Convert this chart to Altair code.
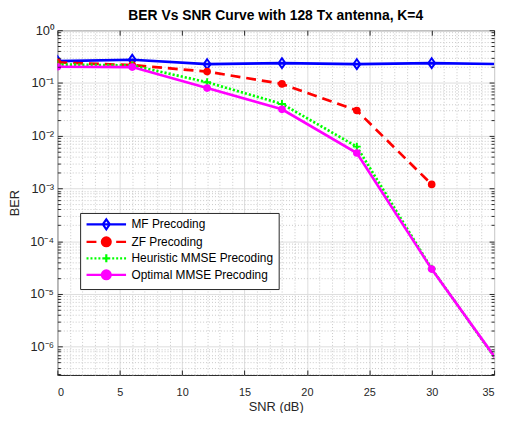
import altair as alt
import pandas as pd

# ---------------- data ----------------
snr = [0, 6, 12, 18, 24, 30, 36]
mf_ber = [0.26, 0.275, 0.227, 0.237, 0.227, 0.237, 0.227]
zf_snr = [0, 6, 12, 18, 24, 30]
zf_ber = [0.245, 0.218, 0.164, 0.096, 0.030, 1.19e-3]
heur_ber = [0.224, 0.215, 0.103, 0.040, 6.2e-3, 3.0e-5, 3.0e-7]
opt_ber = [0.203, 0.200, 0.080, 0.0316, 4.7e-3, 2.95e-5, 3.1e-7]

names = ["MF Precoding", "ZF Precoding", "Heuristic MMSE Precoding", "Optimal MMSE Precoding"]
colors = ["#0000ff", "#ff0000", "#00ff00", "#ff00ff"]

x_ticks = [0, 5, 10, 15, 20, 25, 30, 35]
x_minor = [v for v in range(0, 36) if v % 5 != 0]
y_ticks = [1, 1e-1, 1e-2, 1e-3, 1e-4, 1e-5, 1e-6]
y_minor = [m * 10.0 ** e for e in range(-7, 0) for m in range(2, 10) if m * 10.0 ** e >= 2.9e-7]

rows = []
for s, v in zip(snr, mf_ber):
    rows.append({"snr": s, "ber": v, "series": names[0]})
for s, v in zip(zf_snr, zf_ber):
    rows.append({"snr": s, "ber": v, "series": names[1]})
for s, v in zip(snr, heur_ber):
    rows.append({"snr": s, "ber": v, "series": names[2]})
for s, v in zip(snr, opt_ber):
    rows.append({"snr": s, "ber": v, "series": names[3]})
df = pd.DataFrame(rows)

FONT = "Liberation Sans"
INK = "#262626"
xs = alt.Scale(domain=[0, 35], nice=False, zero=False)
ys = alt.Scale(type="log", domain=[2.9e-7, 1], nice=False)

base = alt.Chart(df)


def axis_layer(xaxis, yaxis):
    return base.transform_filter("false").mark_point(opacity=0).encode(
        x=alt.X("snr:Q", scale=xs, axis=xaxis),
        y=alt.Y("ber:Q", scale=ys, axis=yaxis),
    )


common = dict(labelFont=FONT, titleFont=FONT, labelColor=INK, titleColor=INK,
              tickColor=INK, domain=False)

sup = "['\u2070','\u207b\u00b9','\u207b\u00b2','\u207b\u00b3','\u207b\u2074','\u207b\u2075','\u207b\u2076']"

ax1 = axis_layer(
    alt.Axis(orient="bottom", values=x_ticks, offset=-5, tickSize=5, grid=False,
             labelFontSize=11, labelPadding=12, title="SNR (dB)", titleFontSize=13,
             titleFontWeight="normal", titlePadding=3, zindex=1, **common),
    alt.Axis(orient="left", values=y_ticks, offset=-5, tickSize=5, grid=False,
             labelFontSize=13, labelPadding=4, title="BER", titleFontSize=13,
             titleFontWeight="normal", titlePadding=8, zindex=1,
             labelExpr="'10' + " + sup + "[round(-log(datum.value)/LN10)]", **common),
)
ax2 = axis_layer(
    alt.Axis(orient="top", values=x_ticks, offset=-5, tickSize=5, grid=False,
             labels=False, title=None, zindex=1, **common),
    alt.Axis(orient="right", values=y_ticks, offset=-5, tickSize=5, grid=False,
             labels=False, title=None, zindex=1, **common),
)
ax3 = axis_layer(
    alt.Axis(orient="bottom", values=x_minor, grid=True, gridColor="#c8c8c8",
             gridDash=[1, 2], ticks=False, labels=False, title=None, domain=False),
    alt.Axis(orient="left", values=y_minor, offset=-3, tickSize=3, grid=False,
             labels=False, title=None, zindex=1, **common),
)
ax4 = axis_layer(
    alt.Axis(orient="bottom", values=x_ticks, grid=True, gridColor="#dcdcdc",
             ticks=False, labels=False, title=None, domain=False),
    alt.Axis(orient="right", values=y_minor, offset=-3, tickSize=3, grid=False,
             labels=False, title=None, zindex=1, **common),
)
ax5 = axis_layer(
    None,
    alt.Axis(orient="left", values=y_ticks, grid=True, gridColor="#dcdcdc",
             ticks=False, labels=False, title=None, domain=False),
)
ax6 = axis_layer(
    None,
    alt.Axis(orient="left", values=y_minor, grid=True, gridColor="#c8c8c8",
             gridDash=[1, 2], ticks=False, labels=False, title=None, domain=False),
)

line_styles = [
    dict(strokeWidth=2.7),
    dict(strokeWidth=2.7, strokeDash=[10, 6]),
    dict(strokeWidth=2.7, strokeDash=[2.2, 2]),
    dict(strokeWidth=2.7),
]
marker_styles = [
    dict(shape="M0,-1L0.7,0L0,1L-0.7,0Z", size=100, filled=False, strokeWidth=2),
    dict(shape="circle", size=60, filled=True, strokeWidth=1),
    dict(shape="M-1,0H1M0,-1V1", size=64, filled=False, strokeWidth=2),
    dict(shape="circle", size=60, filled=True, strokeWidth=1),
]

data_layers = []
for name, col, ls, ms in zip(names, colors, line_styles, marker_styles):
    sub = base.transform_filter(alt.datum.series == name)
    data_layers.append(
        sub.mark_line(color=col, clip=True, **ls).encode(
            x=alt.X("snr:Q", scale=xs, axis=None),
            y=alt.Y("ber:Q", scale=ys, axis=None),
        )
    )
    data_layers.append(
        sub.mark_point(color=col, opacity=1, clip=True, **ms).encode(
            x=alt.X("snr:Q", scale=xs, axis=None),
            y=alt.Y("ber:Q", scale=ys, axis=None),
        )
    )

# legend symbols (unit = 5 px): line from -1 to 7, marker centred at 3
circle = "M2.1,0A0.9,0.9,0,1,0,3.9,0A0.9,0.9,0,1,0,2.1,0Z"
dots = "".join(f"M{a:.1f},0H{a + 0.4:.1f}" for a in [-1, -0.2, 0.6, 1.4, 4.2, 5.0, 5.8, 6.6])
legend_paths = [
    "M-1,0H7M3,-1L3.7,0L3,1L2.3,0Z",
    "M-1,0H1M5,0H7" + circle,
    dots + "M2.2,0H3.8M3,-0.8V0.8",
    "M-1,0H7" + circle,
]
legend_fills = ["transparent", "#ff0000", "transparent", "#ff00ff"]

leg = dict(orient="none", legendX=23, legendY=185)
legend_layer = base.transform_filter("false").mark_point(opacity=1).encode(
    x=alt.X("snr:Q", scale=xs, axis=None),
    y=alt.Y("ber:Q", scale=ys, axis=None),
    stroke=alt.Stroke("series:N", scale=alt.Scale(domain=names, range=colors), title=None,
                      legend=alt.Legend(**leg)),
    fill=alt.Fill("series:N", scale=alt.Scale(domain=names, range=legend_fills), title=None,
                  legend=alt.Legend(**leg)),
    shape=alt.Shape("series:N", scale=alt.Scale(domain=names, range=legend_paths), title=None,
                    legend=alt.Legend(**leg)),
)

chart = alt.layer(ax6, ax5, ax3, ax4, *data_layers, ax1, ax2, legend_layer).resolve_axis(
    x="independent", y="independent"
).properties(
    width=442,
    height=349,
    title=alt.TitleParams("BER Vs SNR Curve with 128 Tx antenna, K=4", font=FONT,
                          fontSize=14, fontWeight="bold", color="#000000",
                          anchor="middle", offset=1),
    autosize=alt.AutoSizeParams(type="none"),
    padding={"left": 50, "top": 20, "right": 5, "bottom": 36},
).configure_view(
    stroke=INK, strokeWidth=1
).configure_legend(
    symbolSize=100, symbolStrokeWidth=2.2, labelFont=FONT, labelFontSize=12,
    labelColor="#000000", strokeColor=INK, fillColor="#ffffff", padding=5,
    rowPadding=-1.3, labelOffset=34, cornerRadius=0, symbolType="circle",
)

chart.save("out.html", embed_options={"renderer": "svg", "actions": False})
